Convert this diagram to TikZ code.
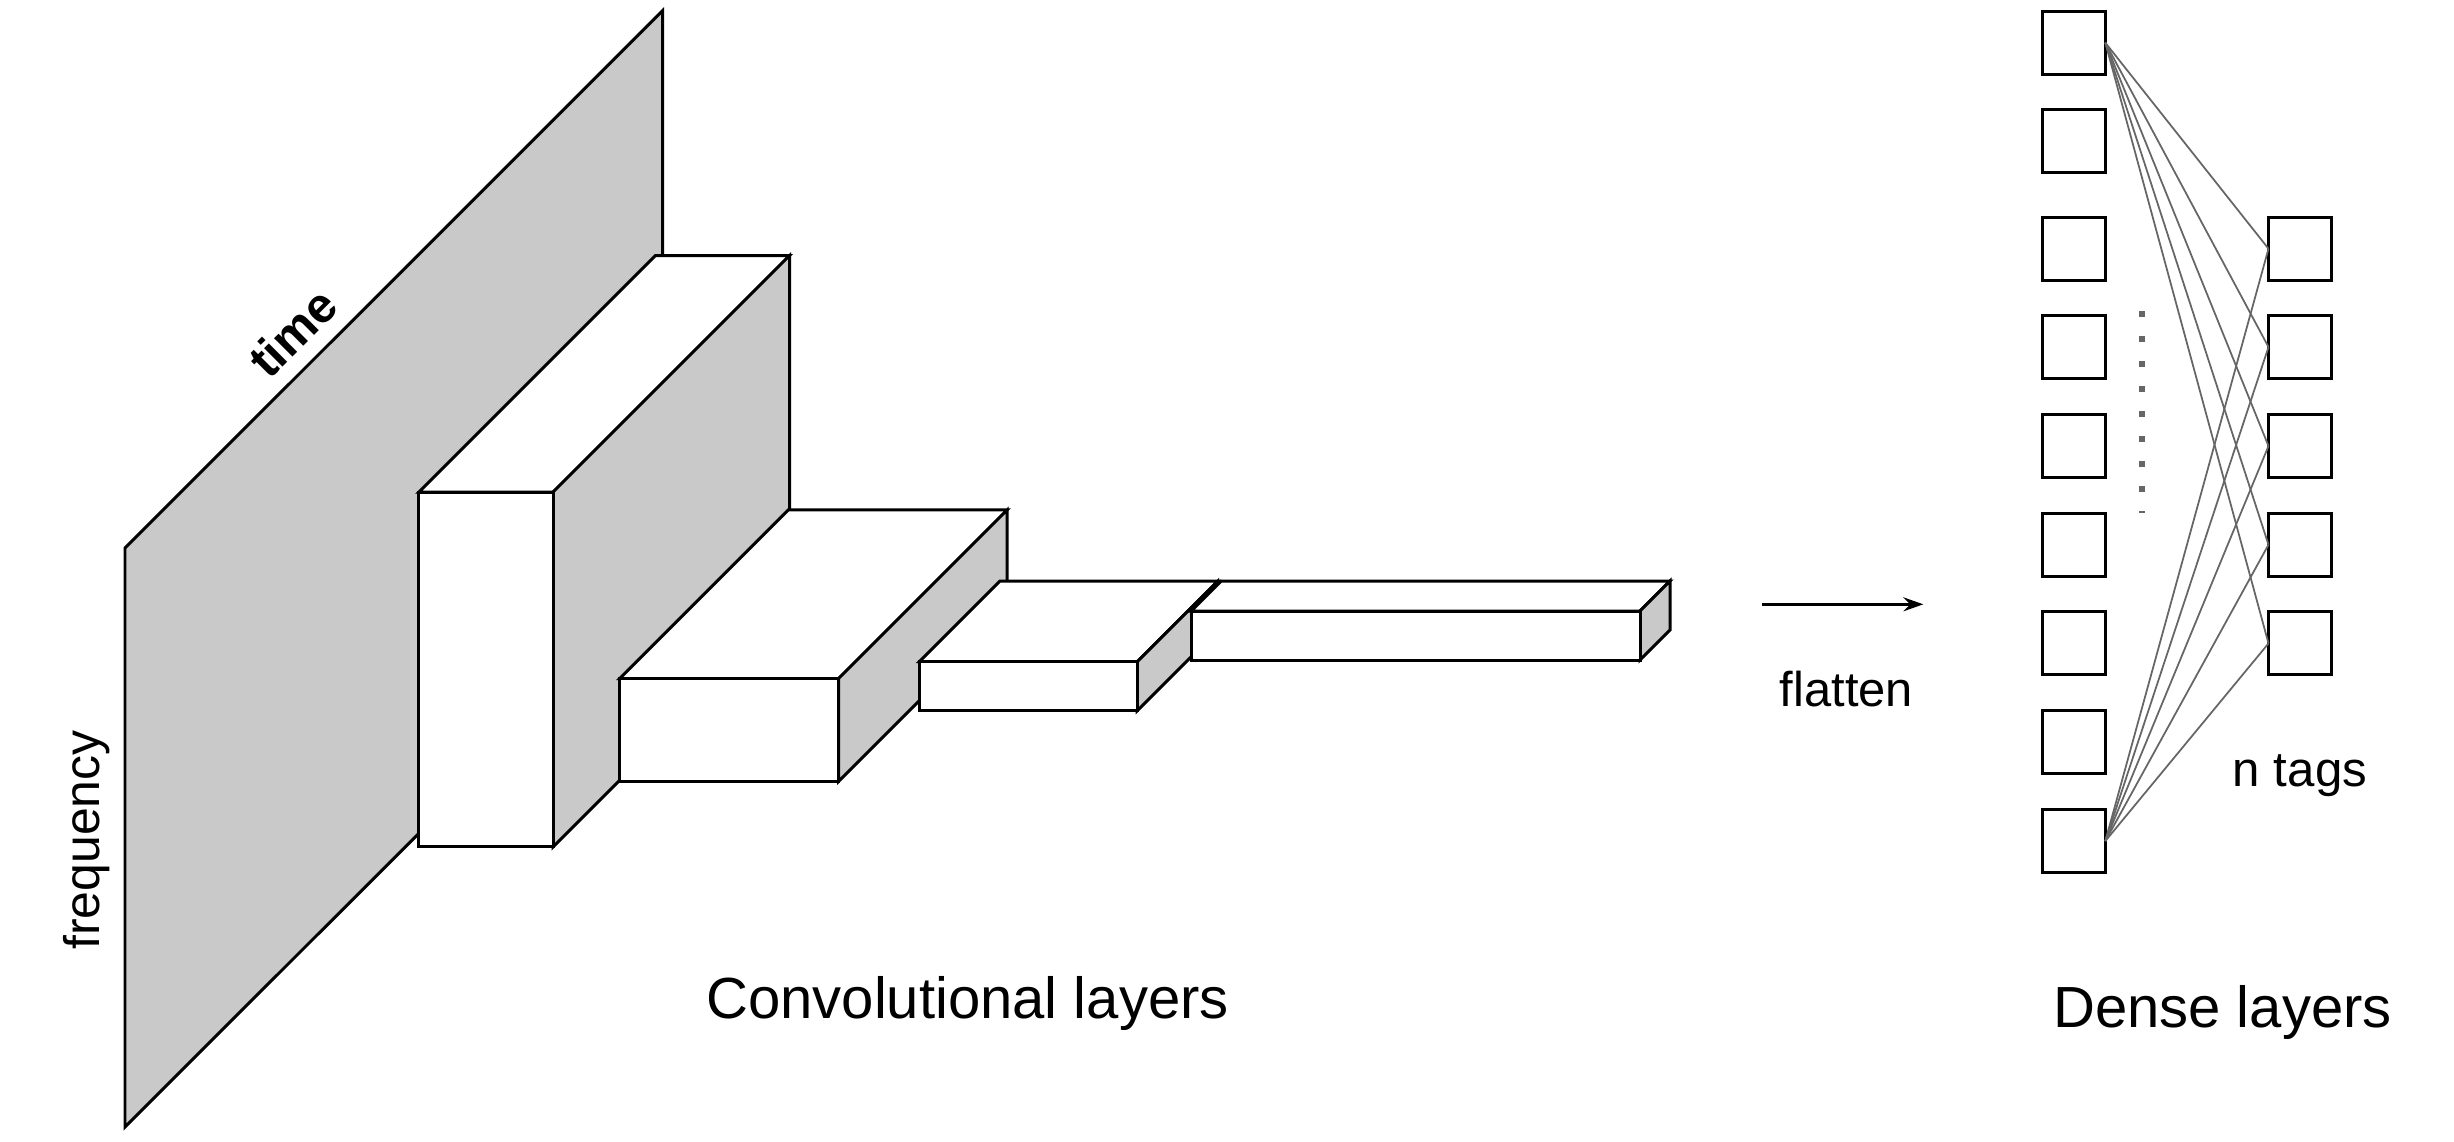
\documentclass[tikz,border=0pt]{standalone}
\usepackage{fontspec}
\setmainfont{Liberation Sans}
\usetikzlibrary{arrows.meta}
\definecolor{facegray}{RGB}{201,201,201}
\definecolor{linkgray}{RGB}{102,102,102}
\newcommand\drawbox[5]{%
  \filldraw[boxline,fill=white] (#1,#2) -- ++(#5,-#5) -- ++(#3,0) -- ++(-#5,#5) -- cycle;
  \filldraw[boxline,fill=facegray] (#1+#3,#2) -- ++(#5,-#5) -- ++(0,#4) -- ++(-#5,#5) -- cycle;
  \filldraw[boxline,fill=white] (#1,#2) rectangle ++(#3,#4);
}
\begin{document}
\begin{tikzpicture}[x=0.01cm,y=-0.01cm,
  boxline/.style={draw=black,line width=0.85pt},
  unit/.style={draw=black,line width=0.85pt,fill=white,minimum size=0.63cm,inner sep=0pt,outer sep=0pt},
  link/.style={draw=linkgray,line width=0.5pt},
  lbl/.style={inner sep=0pt,anchor=base,text=black}]
\useasboundingbox (0,0) rectangle (2454,1141);
\fill[white] (0,0) rectangle (2454,1141);
% spectrogram plane
\filldraw[boxline,fill=facegray] (125,1127) -- (125,548) -- (662.6,10.7) -- (662.6,589.7) -- cycle;
% convolutional blocks
\drawbox{418.8}{492.1}{134.2}{354.8}{236.5}
\drawbox{619.7}{678.6}{218.8}{102.8}{168.7}
\drawbox{919.2}{661.7}{218}{49}{80.5}
\drawbox{1191.2}{611}{448.8}{49}{30}
% labels
\node[lbl,rotate=45,font=\fontsize{14}{17}\selectfont\bfseries] (time) at (305,345) {time};
\node[lbl,rotate=90,font=\fontsize{14.2}{17}\selectfont] (freq) at (100,840) {frequency};
\node[lbl,font=\fontsize{16.5}{19}\selectfont] (conv) at (967.6,1018) {Convolutional layers};
% flatten arrow
\coordinate (fa) at (1761.7,604.3);
\coordinate (fb) at (1923.3,604.3);
\draw[line width=0.85pt,-{Stealth[length=0.2cm,width=0.14cm,inset=0.07cm]}] (fa) -- (fb);
\node[lbl,font=\fontsize{13.9}{16}\selectfont] (flat) at (1846.5,706.7) {flatten};
% dense layers
\foreach \i/\y in {1/42.7,2/141,3/248.7,4/347,5/446,6/544.7,7/643.4,8/742,9/841}
  \node[unit] (L\i) at (2073.8,\y) {};
\foreach \i/\y in {1/248.7,2/347,3/446,4/544.7,5/643.4}
  \node[unit] (R\i) at (2300,\y) {};
\foreach \i in {1,...,5} {
  \draw[link] (L1.east) -- (R\i.west);
  \draw[link] (L9.east) -- (R\i.west);
}
\coordinate (da) at (2142,311.3);
\coordinate (db) at (2142,513);
\draw[draw=linkgray,line width=0.06cm,dash pattern=on 0.06cm off 0.19cm] (da) -- (db);
\node[lbl,font=\fontsize{14}{16}\selectfont] (tags) at (2300,786.7) {n tags};
\node[lbl,font=\fontsize{16.5}{19}\selectfont] (dense) at (2222.5,1027) {Dense layers};
\end{tikzpicture}
\end{document}
